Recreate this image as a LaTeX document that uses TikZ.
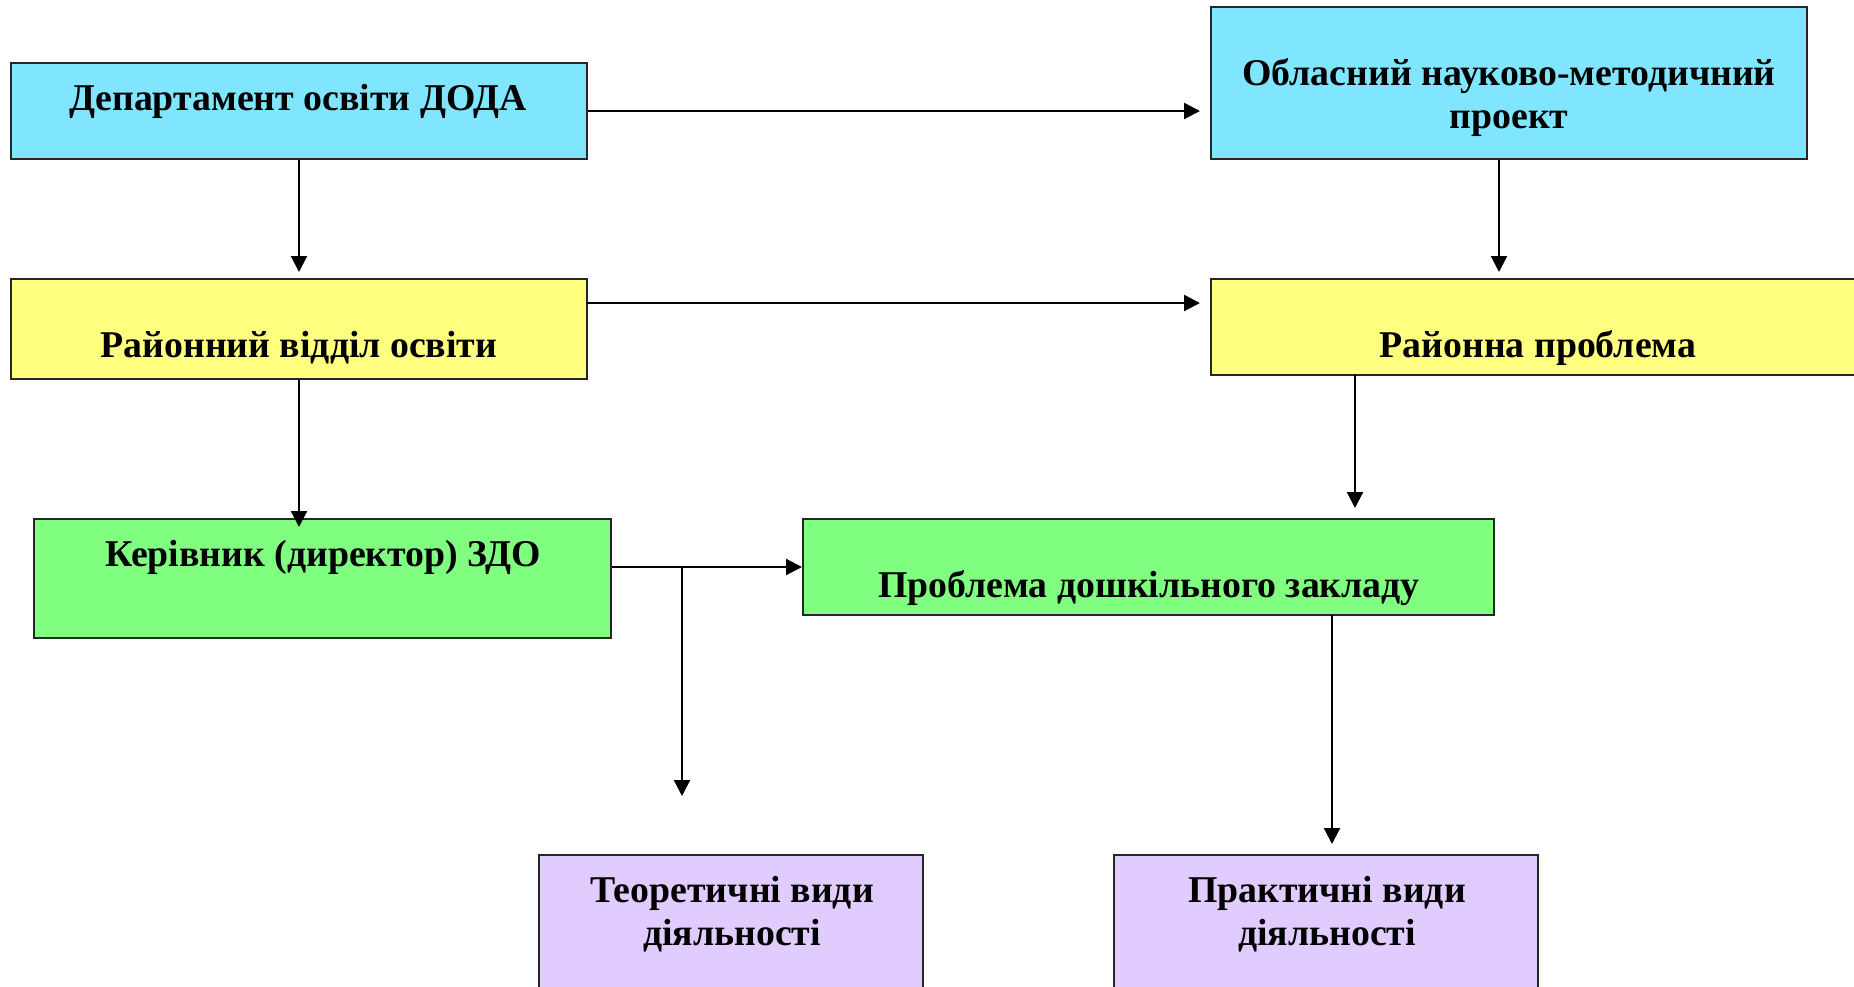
\documentclass[tikz,border=0pt]{standalone}
\usepackage{fontspec}
\setmainfont{Liberation Serif}
\usetikzlibrary{arrows.meta}
\definecolor{cbox}{RGB}{128,229,255}
\definecolor{ybox}{RGB}{255,255,128}
\definecolor{gbox}{RGB}{128,255,128}
\definecolor{pbox}{RGB}{224,204,255}
\tikzset{
  box/.style={draw=black!85, line width=1pt, inner sep=0pt, rectangle},
  txt/.style={anchor=base, inner sep=0pt, align=center, font=\bfseries\fontsize{18.9}{21.5}\selectfont},
  arr/.style={draw=black, line width=1.1pt, -{Triangle[length=8pt,width=8pt]}}
}
\begin{document}
\begin{tikzpicture}[x=0.5pt,y=-0.5pt]
\useasboundingbox (0,0) rectangle (1854,986);
\clip (0,0) rectangle (1854,986);
% boxes
\node[box, fill=cbox, minimum width=288pt, minimum height=48pt] (b1) at (299,111) {};
\node[box, fill=ybox, minimum width=288pt, minimum height=50pt] (b2) at (299,329) {};
\node[box, fill=cbox, minimum width=298pt, minimum height=76pt] (b3) at (1509,83) {};
\node[box, fill=ybox, minimum width=326.5pt, minimum height=48pt] (b4) at (1537.5,327) {};
\node[box, fill=gbox, minimum width=288.5pt, minimum height=59.5pt] (b5) at (322.5,578.5) {};
\node[box, fill=gbox, minimum width=345.5pt, minimum height=48pt] (b6) at (1148.5,567) {};
\node[box, fill=pbox, minimum width=192pt, minimum height=70.5pt] (b7) at (731,925.5) {};
\node[box, fill=pbox, minimum width=212pt, minimum height=70.5pt] (b8) at (1326,925.5) {};
% texts
\node[txt] (t1) at (298,110) {Департамент освіти ДОДА};
\node[txt] (t2) at (299,357) {Районний відділ освіти};
\node[txt] (t3) at (1509,128) {Обласний науково-методичний\\проект};
\node[txt] (t4) at (1538,357) {Районна проблема};
\node[txt] (t5) at (323,566) {Керівник (директор) ЗДО};
\node[txt] (t6) at (1149,597) {Проблема дошкільного закладу};
\node[txt] (t7) at (732,945) {Теоретичні види\\діяльності};
\node[txt] (t8) at (1327,945) {Практичні види\\діяльності};
% connector points
\coordinate (c2) at (587,303);
\coordinate (c4) at (1355,375);
\coordinate (br) at (682,567);
\coordinate (c6) at (1332,615);
% connectors
\draw[arr, shorten >=5pt] (b1.east) -- (b3.west |- b1.east);
\draw[arr, shorten >=3pt] (b1.south) -- (b2.north);
\draw[arr, shorten >=5pt] (c2) -- (c2 -| b4.west);
\draw[arr, shorten >=3pt] ([xshift=-5pt]b3.south) -- ([xshift=-5pt]b3.south |- b4.north);
\draw[arr, shorten >=-4.5pt] (b2.south) -- (b2.south |- b5.north);
\draw[arr, shorten >=5pt] (c4) -- (c4 |- b6.north);
\draw[arr] (b6.west -| b5.east) -- (b6.west);
\draw[arr, shorten >=29pt] (br) -- (br |- b7.north);
\draw[arr, shorten >=5pt] (c6) -- (c6 |- b8.north);
\end{tikzpicture}
\end{document}
